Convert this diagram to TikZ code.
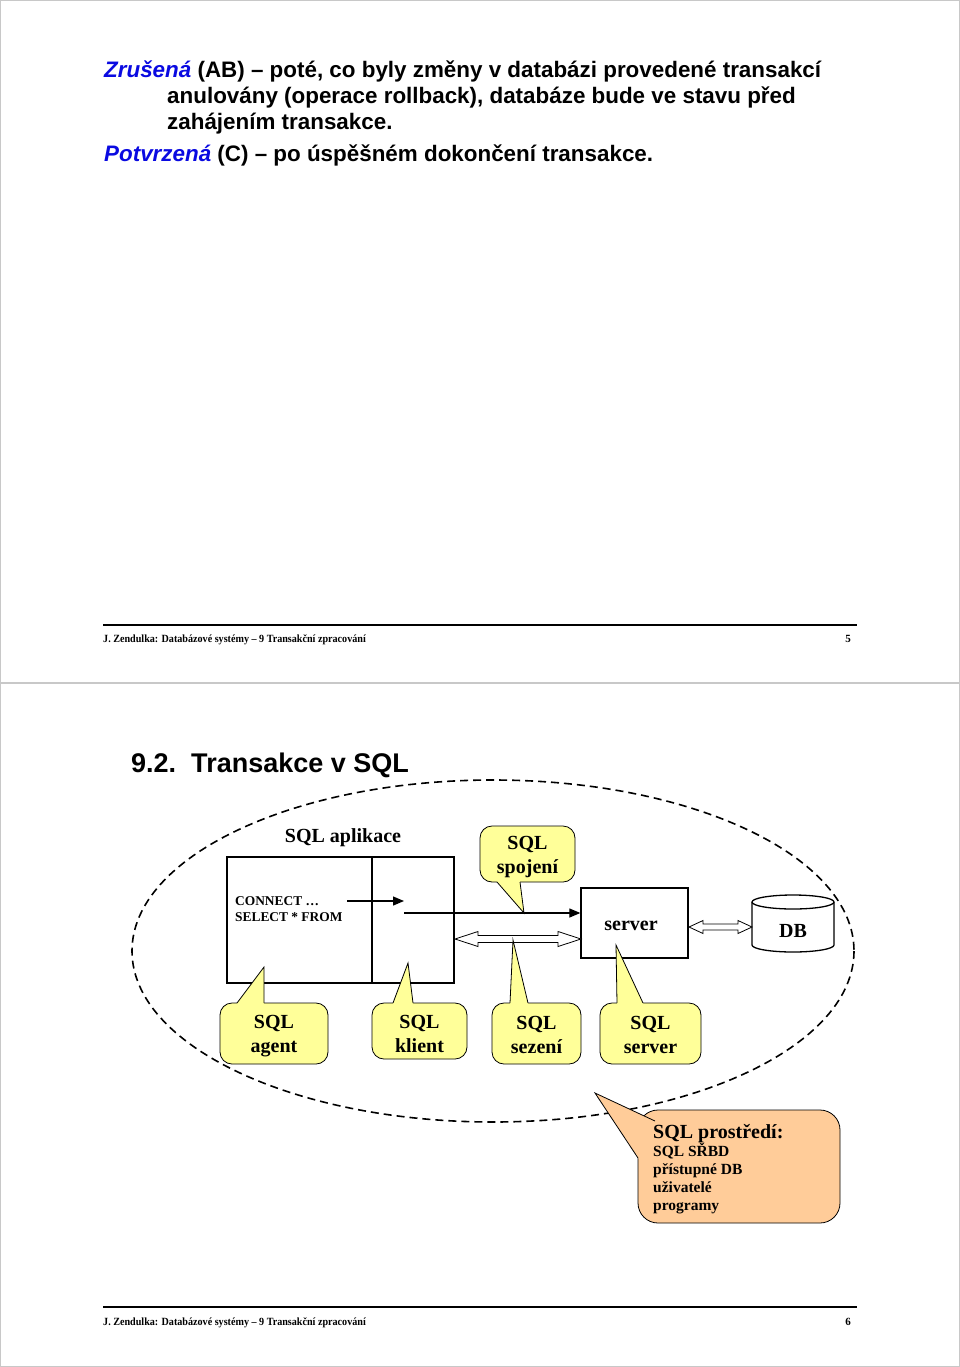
\documentclass[tikz,border=0pt]{standalone}
\usepackage{fontspec}
\setmainfont{Liberation Serif}
\newfontfamily\arial{Liberation Sans}
\usetikzlibrary{arrows.meta,calc}
\definecolor{zblue}{RGB}{10,10,225}
\definecolor{callY}{RGB}{255,255,153}
\definecolor{callP}{RGB}{255,204,153}
\definecolor{pagegray}{RGB}{200,200,200}
\tikzset{
  bodytext/.style={anchor=base west, inner sep=0, font=\arial\bfseries\fontsize{22.4}{26}\selectfont},
  foottext/.style={inner sep=0, font=\bfseries\fontsize{11}{13}\selectfont},
  footrule/.style={line width=2},
  boxnode/.style={draw, line width=1.3, inner sep=0},
  lbl/.style={inner sep=0, align=center, font=\bfseries\fontsize{20}{24}\selectfont},
  calloutY/.style={draw, line width=0.8, fill=callY, rounded corners=12, inner sep=0},
  calloutP/.style={draw, line width=0.8, fill=callP, rounded corners=20, inner sep=0},
  envdash/.style={line width=1.6, dash pattern=on 8 off 5},
  sarrow/.style={line width=1.2, -{Triangle[length=11,width=9]}},
  hollow/.style={draw, line width=0.8, fill=white}
}
% pointer of a callout: fill colour, tip, base1, base2, inward shift
\newcommand{\callptr}[5]{%
  \fill[#1] (#3) -- (#2) -- (#4) -- ($(#4)+(#5)$) -- ($(#3)+(#5)$) -- cycle;
  \draw[line width=0.8] (#3) -- (#2) -- (#4);}
% hollow double-headed block arrow: x1, x2, y, head half height, shaft half height, head length
\newcommand{\hollowarrow}[6]{%
  \path[hollow] (#1,#3) -- (#1+#6,#3-#4) -- (#1+#6,#3-#5) -- (#2-#6,#3-#5) -- (#2-#6,#3-#4)
    -- (#2,#3) -- (#2-#6,#3+#4) -- (#2-#6,#3+#5) -- (#1+#6,#3+#5) -- (#1+#6,#3+#4) -- cycle;}
\newcommand{\foot}[1]{\scalebox{0.92}[1]{#1}}
\begin{document}
\begin{tikzpicture}[x=1pt,y=-1pt]
\useasboundingbox (0,0) rectangle (960,1367);
% page frames
\draw[pagegray, line width=1] (0.5,0.5) rectangle (959.5,1366.5);
\draw[pagegray, line width=1.5] (0,683) -- (960,683);

% ---------- page 5 ----------
\node[bodytext] (t1) at (104,78) {{\color{zblue}\itshape Zrušená} (AB) – poté, co byly změny v databázi provedené transakcí};
\node[bodytext] (t2) at (167,104) {anulovány (operace rollback), databáze bude ve stavu před};
\node[bodytext] (t3) at (167,130) {zahájením transakce.};
\node[bodytext] (t4) at (104,162) {{\color{zblue}\itshape Potvrzená} (C) – po úspěšném dokončení transakce.};

\coordinate (f1a) at (103,625);
\coordinate (f1b) at (857,625);
\draw[footrule] (f1a) -- (f1b);
\node[foottext, anchor=base west] (f1t) at (103,642) {\foot{J. Zendulka: Databázové systémy – 9 Transakční zpracování}};
\node[foottext, anchor=base east] (f1n) at (851,642) {5};

% ---------- page 6 ----------
\node[anchor=base west, inner sep=0, font=\arial\bfseries\fontsize{27}{32}\selectfont] (title) at (131,772) {9.2.\ \ Transakce v SQL};

% environment ellipse
\draw[envdash] (493,951) ellipse [x radius=361, y radius=171];

% application box
\node[boxnode, minimum width=227, minimum height=126] (app) at (340.5,920) {};
\coordinate (divT) at (372,857);
\coordinate (divB) at (372,983);
\draw[line width=1.3] (divT) -- (divB);
\node[lbl] (aplab) at (343,838) {SQL aplikace};
\node[anchor=north west, inner sep=0, align=left, font=\bfseries\fontsize{13.4}{16}\selectfont] (code) at (235,896) {CONNECT …\\SELECT * FROM};

% server and DB
\node[boxnode, minimum width=107, minimum height=70] (server) at (634.5,923) {};
\node[lbl] (srvlab) at (631,926) {server};
\node[inner sep=0, minimum width=82, minimum height=57] (db) at (793,923.5) {};
\filldraw[fill=white, line width=1.3] (752,902) -- (752,945) arc[start angle=180, end angle=0, x radius=41, y radius=7] -- (834,902) arc[start angle=0, end angle=-180, x radius=41, y radius=7] -- cycle;
\draw[line width=1.3] (752,902) arc[start angle=180, end angle=0, x radius=41, y radius=7];
\node[lbl] (dblab) at (793,931) {DB};

% arrows
\coordinate (c1) at (347,901);
\coordinate (c2) at (404,901);
\draw[sarrow] (c1) -- (c2);
\coordinate (c3) at (404,913);
\draw[sarrow] (c3) -- (server.west |- c3);
\hollowarrow{455}{581}{939}{7.5}{3.5}{23}
\hollowarrow{689}{752}{927}{6.5}{3}{14}

% callouts
\node[calloutY, minimum width=95, minimum height=56] (spoj) at (527.5,854) {};
\node[lbl] (spojL) at (527.5,857) {SQL\\spojení};
\coordinate (spojTip) at (524,913);
\callptr{callY}{spojTip}{497,882}{520,882}{0,-1.5}

\node[calloutY, minimum width=108, minimum height=61] (agent) at (274,1033.5) {};
\node[lbl] (agentL) at (274,1036) {SQL\\agent};
\coordinate (agentTip) at (264,967);
\callptr{callY}{agentTip}{237,1003}{264,1003}{0,1.5}

\node[calloutY, minimum width=95, minimum height=56] (klient) at (419.5,1031) {};
\node[lbl] (klientL) at (419.5,1034) {SQL\\klient};
\coordinate (klientTip) at (408,963);
\callptr{callY}{klientTip}{393,1003}{413,1003}{0,1.5}

\node[calloutY, minimum width=89, minimum height=61] (sezeni) at (536.5,1033.5) {};
\node[lbl] (sezeniL) at (536.5,1035) {SQL\\sezení};
\coordinate (sezeniTip) at (513,940);
\callptr{callY}{sezeniTip}{510,1003}{528,1003}{0,1.5}

\node[calloutY, minimum width=101, minimum height=61] (sqlsrv) at (650.5,1033.5) {};
\node[lbl] (sqlsrvL) at (650.5,1035) {SQL\\server};
\coordinate (sqlsrvTip) at (616,945);
\callptr{callY}{sqlsrvTip}{617,1003}{643,1003}{0,1.5}

\node[calloutP, minimum width=202, minimum height=113] (env) at (739,1166.5) {};
\coordinate (envTip) at (595,1093);
\callptr{callP}{envTip}{655,1121}{638,1158}{2,1}
\node[anchor=base west, inner sep=0, font=\bfseries\fontsize{20}{24}\selectfont] (envh) at (653,1138) {SQL prostředí:};
\node[anchor=base west, inner sep=0, font=\bfseries\fontsize{15.5}{18}\selectfont] (envl) at (653,1156) {SQL SŘBD};
\node[anchor=base west, inner sep=0, font=\bfseries\fontsize{15.5}{18}\selectfont] (envl2) at (653,1174) {přístupné DB};
\node[anchor=base west, inner sep=0, font=\bfseries\fontsize{15.5}{18}\selectfont] (envl3) at (653,1192) {uživatelé};
\node[anchor=base west, inner sep=0, font=\bfseries\fontsize{15.5}{18}\selectfont] (envl4) at (653,1210) {programy};

% footer page 6
\coordinate (f2a) at (103,1307);
\coordinate (f2b) at (857,1307);
\draw[footrule] (f2a) -- (f2b);
\node[foottext, anchor=base west] (f2t) at (103,1325) {\foot{J. Zendulka: Databázové systémy – 9 Transakční zpracování}};
\node[foottext, anchor=base east] (f2n) at (851,1325) {6};
\end{tikzpicture}
\end{document}
